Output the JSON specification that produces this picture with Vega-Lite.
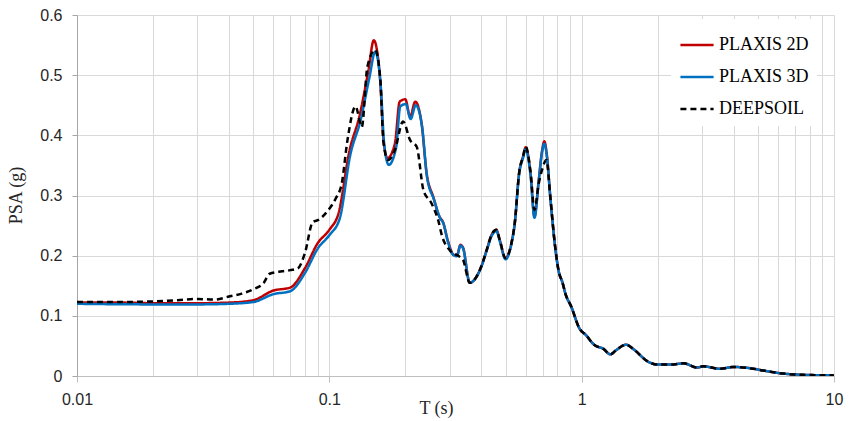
{
  "$schema": "https://vega.github.io/schema/vega-lite/v6.json",
  "autosize": {"type": "none"},
  "padding": {"left": 77, "top": 15, "right": 15, "bottom": 45},
  "width": 757,
  "height": 361,
  "background": "white",
  "config": {"view": {"stroke": null}},
  "datasets": {
    "psa": [
      {"s": "PLAXIS 2D", "T": 0.01, "v": 0.122},
      {"s": "PLAXIS 2D", "T": 0.015, "v": 0.122},
      {"s": "PLAXIS 2D", "T": 0.02, "v": 0.121},
      {"s": "PLAXIS 2D", "T": 0.03, "v": 0.121},
      {"s": "PLAXIS 2D", "T": 0.04, "v": 0.122},
      {"s": "PLAXIS 2D", "T": 0.05, "v": 0.126},
      {"s": "PLAXIS 2D", "T": 0.06, "v": 0.142},
      {"s": "PLAXIS 2D", "T": 0.07, "v": 0.147},
      {"s": "PLAXIS 2D", "T": 0.08, "v": 0.179},
      {"s": "PLAXIS 2D", "T": 0.09, "v": 0.221},
      {"s": "PLAXIS 2D", "T": 0.1, "v": 0.243},
      {"s": "PLAXIS 2D", "T": 0.109, "v": 0.272},
      {"s": "PLAXIS 2D", "T": 0.12, "v": 0.373},
      {"s": "PLAXIS 2D", "T": 0.132, "v": 0.434},
      {"s": "PLAXIS 2D", "T": 0.143, "v": 0.509},
      {"s": "PLAXIS 2D", "T": 0.15, "v": 0.558},
      {"s": "PLAXIS 2D", "T": 0.159, "v": 0.492},
      {"s": "PLAXIS 2D", "T": 0.164, "v": 0.392},
      {"s": "PLAXIS 2D", "T": 0.17, "v": 0.362},
      {"s": "PLAXIS 2D", "T": 0.182, "v": 0.387},
      {"s": "PLAXIS 2D", "T": 0.19, "v": 0.456},
      {"s": "PLAXIS 2D", "T": 0.2, "v": 0.46},
      {"s": "PLAXIS 2D", "T": 0.209, "v": 0.431},
      {"s": "PLAXIS 2D", "T": 0.219, "v": 0.456},
      {"s": "PLAXIS 2D", "T": 0.232, "v": 0.42},
      {"s": "PLAXIS 2D", "T": 0.243, "v": 0.337},
      {"s": "PLAXIS 2D", "T": 0.258, "v": 0.298},
      {"s": "PLAXIS 2D", "T": 0.273, "v": 0.265},
      {"s": "PLAXIS 2D", "T": 0.282, "v": 0.256},
      {"s": "PLAXIS 2D", "T": 0.295, "v": 0.225},
      {"s": "PLAXIS 2D", "T": 0.31, "v": 0.202},
      {"s": "PLAXIS 2D", "T": 0.32, "v": 0.2},
      {"s": "PLAXIS 2D", "T": 0.331, "v": 0.218},
      {"s": "PLAXIS 2D", "T": 0.339, "v": 0.213},
      {"s": "PLAXIS 2D", "T": 0.36, "v": 0.155},
      {"s": "PLAXIS 2D", "T": 0.4, "v": 0.182},
      {"s": "PLAXIS 2D", "T": 0.42, "v": 0.209},
      {"s": "PLAXIS 2D", "T": 0.44, "v": 0.235},
      {"s": "PLAXIS 2D", "T": 0.459, "v": 0.243},
      {"s": "PLAXIS 2D", "T": 0.473, "v": 0.227},
      {"s": "PLAXIS 2D", "T": 0.499, "v": 0.196},
      {"s": "PLAXIS 2D", "T": 0.527, "v": 0.221},
      {"s": "PLAXIS 2D", "T": 0.543, "v": 0.254},
      {"s": "PLAXIS 2D", "T": 0.565, "v": 0.337},
      {"s": "PLAXIS 2D", "T": 0.586, "v": 0.365},
      {"s": "PLAXIS 2D", "T": 0.6, "v": 0.38},
      {"s": "PLAXIS 2D", "T": 0.627, "v": 0.337},
      {"s": "PLAXIS 2D", "T": 0.65, "v": 0.265},
      {"s": "PLAXIS 2D", "T": 0.676, "v": 0.326},
      {"s": "PLAXIS 2D", "T": 0.696, "v": 0.373},
      {"s": "PLAXIS 2D", "T": 0.711, "v": 0.39},
      {"s": "PLAXIS 2D", "T": 0.729, "v": 0.365},
      {"s": "PLAXIS 2D", "T": 0.751, "v": 0.298},
      {"s": "PLAXIS 2D", "T": 0.785, "v": 0.215},
      {"s": "PLAXIS 2D", "T": 0.81, "v": 0.175},
      {"s": "PLAXIS 2D", "T": 0.84, "v": 0.155},
      {"s": "PLAXIS 2D", "T": 0.862, "v": 0.137},
      {"s": "PLAXIS 2D", "T": 0.91, "v": 0.115},
      {"s": "PLAXIS 2D", "T": 0.98, "v": 0.079},
      {"s": "PLAXIS 2D", "T": 1.04, "v": 0.068},
      {"s": "PLAXIS 2D", "T": 1.12, "v": 0.052},
      {"s": "PLAXIS 2D", "T": 1.22, "v": 0.045},
      {"s": "PLAXIS 2D", "T": 1.3, "v": 0.036},
      {"s": "PLAXIS 2D", "T": 1.37, "v": 0.043},
      {"s": "PLAXIS 2D", "T": 1.5, "v": 0.052},
      {"s": "PLAXIS 2D", "T": 1.61, "v": 0.044},
      {"s": "PLAXIS 2D", "T": 1.83, "v": 0.024},
      {"s": "PLAXIS 2D", "T": 2.0, "v": 0.019},
      {"s": "PLAXIS 2D", "T": 2.25, "v": 0.019},
      {"s": "PLAXIS 2D", "T": 2.54, "v": 0.021},
      {"s": "PLAXIS 2D", "T": 2.87, "v": 0.014},
      {"s": "PLAXIS 2D", "T": 3.03, "v": 0.016},
      {"s": "PLAXIS 2D", "T": 3.53, "v": 0.012},
      {"s": "PLAXIS 2D", "T": 4.0, "v": 0.015},
      {"s": "PLAXIS 2D", "T": 4.65, "v": 0.013},
      {"s": "PLAXIS 2D", "T": 5.26, "v": 0.009},
      {"s": "PLAXIS 2D", "T": 6.3, "v": 0.004},
      {"s": "PLAXIS 2D", "T": 7.5, "v": 0.002},
      {"s": "PLAXIS 2D", "T": 10, "v": 0.001},

      {"s": "PLAXIS 3D", "T": 0.01, "v": 0.12},
      {"s": "PLAXIS 3D", "T": 0.02, "v": 0.119},
      {"s": "PLAXIS 3D", "T": 0.03, "v": 0.119},
      {"s": "PLAXIS 3D", "T": 0.04, "v": 0.12},
      {"s": "PLAXIS 3D", "T": 0.05, "v": 0.123},
      {"s": "PLAXIS 3D", "T": 0.06, "v": 0.136},
      {"s": "PLAXIS 3D", "T": 0.07, "v": 0.141},
      {"s": "PLAXIS 3D", "T": 0.08, "v": 0.171},
      {"s": "PLAXIS 3D", "T": 0.09, "v": 0.212},
      {"s": "PLAXIS 3D", "T": 0.1, "v": 0.234},
      {"s": "PLAXIS 3D", "T": 0.11, "v": 0.262},
      {"s": "PLAXIS 3D", "T": 0.121, "v": 0.367},
      {"s": "PLAXIS 3D", "T": 0.133, "v": 0.425},
      {"s": "PLAXIS 3D", "T": 0.144, "v": 0.495},
      {"s": "PLAXIS 3D", "T": 0.152, "v": 0.539},
      {"s": "PLAXIS 3D", "T": 0.16, "v": 0.48},
      {"s": "PLAXIS 3D", "T": 0.165, "v": 0.385},
      {"s": "PLAXIS 3D", "T": 0.172, "v": 0.351},
      {"s": "PLAXIS 3D", "T": 0.184, "v": 0.38},
      {"s": "PLAXIS 3D", "T": 0.191, "v": 0.448},
      {"s": "PLAXIS 3D", "T": 0.201, "v": 0.452},
      {"s": "PLAXIS 3D", "T": 0.21, "v": 0.427},
      {"s": "PLAXIS 3D", "T": 0.22, "v": 0.45},
      {"s": "PLAXIS 3D", "T": 0.233, "v": 0.415},
      {"s": "PLAXIS 3D", "T": 0.244, "v": 0.33},
      {"s": "PLAXIS 3D", "T": 0.26, "v": 0.293},
      {"s": "PLAXIS 3D", "T": 0.275, "v": 0.262},
      {"s": "PLAXIS 3D", "T": 0.283, "v": 0.254},
      {"s": "PLAXIS 3D", "T": 0.295, "v": 0.223},
      {"s": "PLAXIS 3D", "T": 0.31, "v": 0.201},
      {"s": "PLAXIS 3D", "T": 0.32, "v": 0.199},
      {"s": "PLAXIS 3D", "T": 0.331, "v": 0.217},
      {"s": "PLAXIS 3D", "T": 0.339, "v": 0.212},
      {"s": "PLAXIS 3D", "T": 0.36, "v": 0.155},
      {"s": "PLAXIS 3D", "T": 0.4, "v": 0.181},
      {"s": "PLAXIS 3D", "T": 0.42, "v": 0.208},
      {"s": "PLAXIS 3D", "T": 0.44, "v": 0.233},
      {"s": "PLAXIS 3D", "T": 0.459, "v": 0.241},
      {"s": "PLAXIS 3D", "T": 0.473, "v": 0.225},
      {"s": "PLAXIS 3D", "T": 0.499, "v": 0.194},
      {"s": "PLAXIS 3D", "T": 0.527, "v": 0.22},
      {"s": "PLAXIS 3D", "T": 0.543, "v": 0.253},
      {"s": "PLAXIS 3D", "T": 0.565, "v": 0.335},
      {"s": "PLAXIS 3D", "T": 0.586, "v": 0.363},
      {"s": "PLAXIS 3D", "T": 0.6, "v": 0.377},
      {"s": "PLAXIS 3D", "T": 0.627, "v": 0.334},
      {"s": "PLAXIS 3D", "T": 0.65, "v": 0.263},
      {"s": "PLAXIS 3D", "T": 0.676, "v": 0.324},
      {"s": "PLAXIS 3D", "T": 0.696, "v": 0.371},
      {"s": "PLAXIS 3D", "T": 0.711, "v": 0.386},
      {"s": "PLAXIS 3D", "T": 0.729, "v": 0.363},
      {"s": "PLAXIS 3D", "T": 0.751, "v": 0.297},
      {"s": "PLAXIS 3D", "T": 0.785, "v": 0.214},
      {"s": "PLAXIS 3D", "T": 0.81, "v": 0.175},
      {"s": "PLAXIS 3D", "T": 0.84, "v": 0.155},
      {"s": "PLAXIS 3D", "T": 0.862, "v": 0.137},
      {"s": "PLAXIS 3D", "T": 0.91, "v": 0.115},
      {"s": "PLAXIS 3D", "T": 0.98, "v": 0.079},
      {"s": "PLAXIS 3D", "T": 1.04, "v": 0.068},
      {"s": "PLAXIS 3D", "T": 1.12, "v": 0.052},
      {"s": "PLAXIS 3D", "T": 1.22, "v": 0.045},
      {"s": "PLAXIS 3D", "T": 1.3, "v": 0.036},
      {"s": "PLAXIS 3D", "T": 1.37, "v": 0.043},
      {"s": "PLAXIS 3D", "T": 1.5, "v": 0.052},
      {"s": "PLAXIS 3D", "T": 1.61, "v": 0.044},
      {"s": "PLAXIS 3D", "T": 1.83, "v": 0.024},
      {"s": "PLAXIS 3D", "T": 2.0, "v": 0.019},
      {"s": "PLAXIS 3D", "T": 2.25, "v": 0.019},
      {"s": "PLAXIS 3D", "T": 2.54, "v": 0.021},
      {"s": "PLAXIS 3D", "T": 2.87, "v": 0.014},
      {"s": "PLAXIS 3D", "T": 3.03, "v": 0.016},
      {"s": "PLAXIS 3D", "T": 3.53, "v": 0.012},
      {"s": "PLAXIS 3D", "T": 4.0, "v": 0.015},
      {"s": "PLAXIS 3D", "T": 4.65, "v": 0.013},
      {"s": "PLAXIS 3D", "T": 5.26, "v": 0.009},
      {"s": "PLAXIS 3D", "T": 6.3, "v": 0.004},
      {"s": "PLAXIS 3D", "T": 7.5, "v": 0.002},
      {"s": "PLAXIS 3D", "T": 10, "v": 0.001},

      {"s": "DEEPSOIL", "T": 0.01, "v": 0.123},
      {"s": "DEEPSOIL", "T": 0.015, "v": 0.123},
      {"s": "DEEPSOIL", "T": 0.02, "v": 0.124},
      {"s": "DEEPSOIL", "T": 0.025, "v": 0.126},
      {"s": "DEEPSOIL", "T": 0.03, "v": 0.128},
      {"s": "DEEPSOIL", "T": 0.035, "v": 0.127},
      {"s": "DEEPSOIL", "T": 0.04, "v": 0.132},
      {"s": "DEEPSOIL", "T": 0.045, "v": 0.137},
      {"s": "DEEPSOIL", "T": 0.05, "v": 0.144},
      {"s": "DEEPSOIL", "T": 0.055, "v": 0.155},
      {"s": "DEEPSOIL", "T": 0.058, "v": 0.17},
      {"s": "DEEPSOIL", "T": 0.065, "v": 0.174},
      {"s": "DEEPSOIL", "T": 0.07, "v": 0.176},
      {"s": "DEEPSOIL", "T": 0.075, "v": 0.179},
      {"s": "DEEPSOIL", "T": 0.08, "v": 0.204},
      {"s": "DEEPSOIL", "T": 0.086, "v": 0.256},
      {"s": "DEEPSOIL", "T": 0.09, "v": 0.259},
      {"s": "DEEPSOIL", "T": 0.1, "v": 0.278},
      {"s": "DEEPSOIL", "T": 0.106, "v": 0.295},
      {"s": "DEEPSOIL", "T": 0.112, "v": 0.32},
      {"s": "DEEPSOIL", "T": 0.118, "v": 0.392},
      {"s": "DEEPSOIL", "T": 0.127, "v": 0.448},
      {"s": "DEEPSOIL", "T": 0.1345, "v": 0.414},
      {"s": "DEEPSOIL", "T": 0.1415, "v": 0.514},
      {"s": "DEEPSOIL", "T": 0.152, "v": 0.542},
      {"s": "DEEPSOIL", "T": 0.159, "v": 0.497},
      {"s": "DEEPSOIL", "T": 0.164, "v": 0.387},
      {"s": "DEEPSOIL", "T": 0.171, "v": 0.359},
      {"s": "DEEPSOIL", "T": 0.182, "v": 0.376},
      {"s": "DEEPSOIL", "T": 0.196, "v": 0.423},
      {"s": "DEEPSOIL", "T": 0.209, "v": 0.392},
      {"s": "DEEPSOIL", "T": 0.222, "v": 0.381},
      {"s": "DEEPSOIL", "T": 0.236, "v": 0.309},
      {"s": "DEEPSOIL", "T": 0.254, "v": 0.287},
      {"s": "DEEPSOIL", "T": 0.27, "v": 0.259},
      {"s": "DEEPSOIL", "T": 0.28, "v": 0.232},
      {"s": "DEEPSOIL", "T": 0.3, "v": 0.209},
      {"s": "DEEPSOIL", "T": 0.329, "v": 0.198},
      {"s": "DEEPSOIL", "T": 0.339, "v": 0.193},
      {"s": "DEEPSOIL", "T": 0.36, "v": 0.155},
      {"s": "DEEPSOIL", "T": 0.4, "v": 0.182},
      {"s": "DEEPSOIL", "T": 0.42, "v": 0.209},
      {"s": "DEEPSOIL", "T": 0.44, "v": 0.235},
      {"s": "DEEPSOIL", "T": 0.459, "v": 0.243},
      {"s": "DEEPSOIL", "T": 0.473, "v": 0.227},
      {"s": "DEEPSOIL", "T": 0.499, "v": 0.196},
      {"s": "DEEPSOIL", "T": 0.527, "v": 0.221},
      {"s": "DEEPSOIL", "T": 0.543, "v": 0.254},
      {"s": "DEEPSOIL", "T": 0.565, "v": 0.337},
      {"s": "DEEPSOIL", "T": 0.586, "v": 0.365},
      {"s": "DEEPSOIL", "T": 0.6, "v": 0.381},
      {"s": "DEEPSOIL", "T": 0.627, "v": 0.34},
      {"s": "DEEPSOIL", "T": 0.65, "v": 0.276},
      {"s": "DEEPSOIL", "T": 0.676, "v": 0.32},
      {"s": "DEEPSOIL", "T": 0.696, "v": 0.342},
      {"s": "DEEPSOIL", "T": 0.725, "v": 0.359},
      {"s": "DEEPSOIL", "T": 0.751, "v": 0.298},
      {"s": "DEEPSOIL", "T": 0.785, "v": 0.215},
      {"s": "DEEPSOIL", "T": 0.81, "v": 0.175},
      {"s": "DEEPSOIL", "T": 0.84, "v": 0.155},
      {"s": "DEEPSOIL", "T": 0.862, "v": 0.137},
      {"s": "DEEPSOIL", "T": 0.91, "v": 0.115},
      {"s": "DEEPSOIL", "T": 0.98, "v": 0.079},
      {"s": "DEEPSOIL", "T": 1.04, "v": 0.068},
      {"s": "DEEPSOIL", "T": 1.12, "v": 0.052},
      {"s": "DEEPSOIL", "T": 1.22, "v": 0.045},
      {"s": "DEEPSOIL", "T": 1.3, "v": 0.036},
      {"s": "DEEPSOIL", "T": 1.37, "v": 0.043},
      {"s": "DEEPSOIL", "T": 1.5, "v": 0.052},
      {"s": "DEEPSOIL", "T": 1.61, "v": 0.044},
      {"s": "DEEPSOIL", "T": 1.83, "v": 0.024},
      {"s": "DEEPSOIL", "T": 2.0, "v": 0.019},
      {"s": "DEEPSOIL", "T": 2.25, "v": 0.019},
      {"s": "DEEPSOIL", "T": 2.54, "v": 0.021},
      {"s": "DEEPSOIL", "T": 2.87, "v": 0.014},
      {"s": "DEEPSOIL", "T": 3.03, "v": 0.016},
      {"s": "DEEPSOIL", "T": 3.53, "v": 0.012},
      {"s": "DEEPSOIL", "T": 4.0, "v": 0.015},
      {"s": "DEEPSOIL", "T": 4.65, "v": 0.013},
      {"s": "DEEPSOIL", "T": 5.26, "v": 0.009},
      {"s": "DEEPSOIL", "T": 6.3, "v": 0.004},
      {"s": "DEEPSOIL", "T": 7.5, "v": 0.002},
      {"s": "DEEPSOIL", "T": 10, "v": 0.001}
    ]
  },
  "data": {"name": "psa"},
  "mark": {"type": "line", "strokeWidth": 2.5, "interpolate": "monotone", "clip": true},
  "encoding": {
    "x": {
      "field": "T", "type": "quantitative",
      "scale": {"type": "log", "domain": [0.01, 10], "nice": false},
      "axis": {
        "title": "T (s)",
        "titleFont": "Liberation Serif", "titleFontSize": 18, "titleFontWeight": "normal", "titleColor": "#262626",
        "titleX": 359, "titleY": 37, "titleBaseline": "alphabetic",
        "values": [0.01,0.02,0.03,0.04,0.05,0.06,0.07,0.08,0.09,0.1,0.2,0.3,0.4,0.5,0.6,0.7,0.8,0.9,1,2,3,4,5,6,7,8,9,10],
        "labelExpr": "indexof([0.01,0.1,1,10], datum.value) >= 0 ? datum.value : ''",
        "labelFont": "Liberation Sans", "labelFontSize": 16, "labelColor": "#262626",
        "labelPadding": 9, "labelFlush": false, "labelOverlap": false,
        "tickSize": 6, "tickColor": "#BFBFBF",
        "tickOpacity": {"condition": {"test": "indexof([0.01,0.1,1,10], datum.value) >= 0", "value": 1}, "value": 0},
        "domainColor": "#BFBFBF",
        "grid": true, "gridColor": "#D9D9D9", "gridWidth": 1
      }
    },
    "y": {
      "field": "v", "type": "quantitative",
      "scale": {"domain": [0, 0.6], "nice": false},
      "axis": {
        "title": "PSA (g)",
        "titleFont": "Liberation Serif", "titleFontSize": 18, "titleFontWeight": "normal", "titleColor": "#262626",
        "titleX": -61, "titleY": 180, "titleBaseline": "middle", "titleAngle": -90,
        "values": [0, 0.1, 0.2, 0.3, 0.4, 0.5, 0.6],
        "format": "~g",
        "labelFont": "Liberation Sans", "labelFontSize": 16, "labelColor": "#262626",
        "labelPadding": 10,
        "tickSize": 5, "tickColor": "#A6A6A6",
        "domainColor": "#A6A6A6",
        "grid": true, "gridColor": "#D9D9D9", "gridWidth": 1
      }
    },
    "color": {
      "field": "s", "type": "nominal",
      "scale": {"domain": ["PLAXIS 2D", "PLAXIS 3D", "DEEPSOIL"], "range": ["#C00000", "#0070C0", "#000000"]},
      "legend": {
        "orient": "none", "legendX": 594, "legendY": 4, "title": null,
        "fillColor": "white", "padding": 8,
        "labelFont": "Liberation Serif", "labelFontSize": 18, "labelColor": "#000000",
        "symbolType": "stroke", "symbolSize": 1100, "symbolStrokeWidth": 2.5,
        "rowPadding": 5, "labelOffset": 4
      }
    },
    "strokeDash": {
      "field": "s", "type": "nominal",
      "scale": {"domain": ["PLAXIS 2D", "PLAXIS 3D", "DEEPSOIL"], "range": [[1, 0], [1, 0], [6, 4]]},
      "legend": {
        "orient": "none", "legendX": 594, "legendY": 4, "title": null,
        "fillColor": "white", "padding": 8,
        "labelFont": "Liberation Serif", "labelFontSize": 18, "labelColor": "#000000",
        "symbolType": "stroke", "symbolSize": 1100, "symbolStrokeWidth": 2.5,
        "rowPadding": 5, "labelOffset": 4
      }
    }
  }
}
